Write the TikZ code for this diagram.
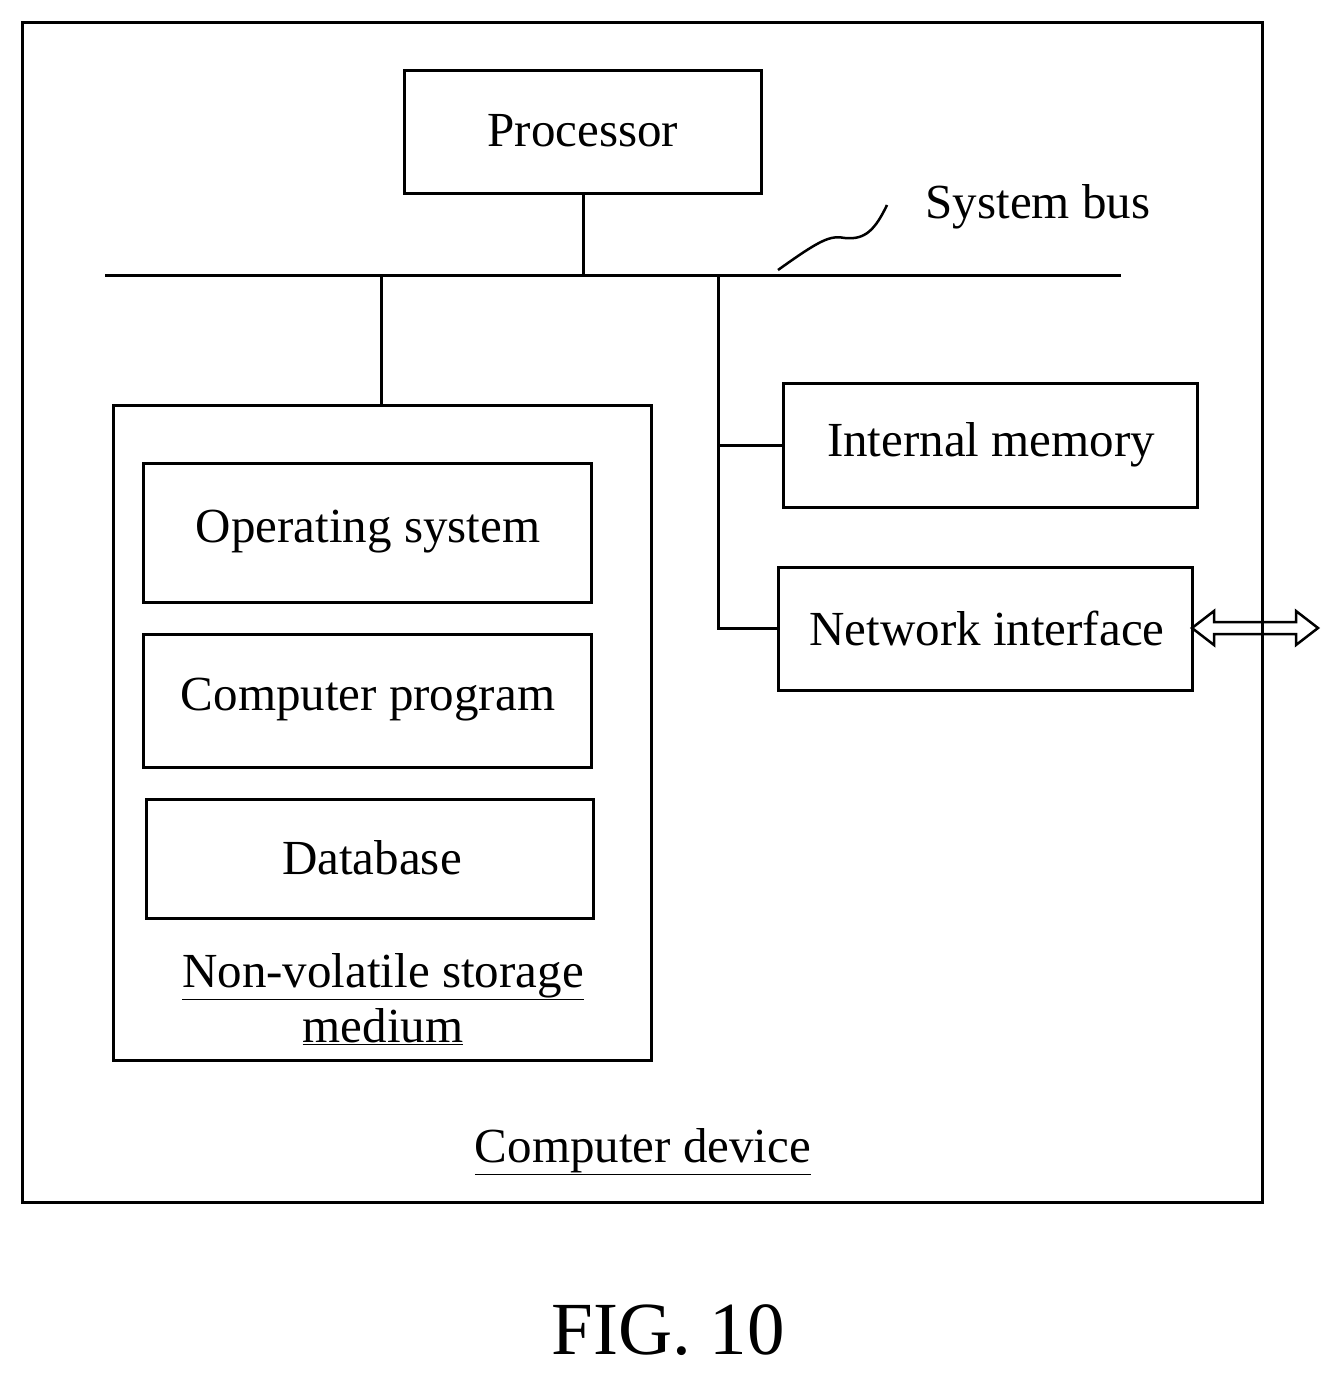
\documentclass[tikz,border=0pt]{standalone}
\usepackage{fontspec}
\setmainfont{Liberation Serif}
\begin{document}
\begin{tikzpicture}[x=1pt,y=-1pt,line width=3pt,
  box/.style={draw,rectangle,inner sep=0pt},
  lbl/.style={font=\fontsize{49}{55}\selectfont,inner sep=0pt}]
\useasboundingbox (0,0) rectangle (1340,1376);
\draw (22,22) rectangle (1262,1202);
\draw (404,70) rectangle (761,193);
\node[lbl] (proc) at (583,131) {Processor};
\draw (105,275) -- (1121,275);
\coordinate (pb) at (583,193); \coordinate (pbus) at (583,275);
\draw (pb) -- (pbus);
\draw[line width=2.5pt] (778,270) .. controls (820,240) and (830,235) .. (845,238) .. controls (865,240) and (875,230) .. (887,205);
\node[lbl] (sb) at (1038,207) {System bus};
\draw (381,275) -- (381,405);
\draw (113,405) rectangle (651,1060);
\draw (143,463) rectangle (591,602);
\node[lbl] (os) at (368,532) {Operating system};
\draw (143,634) rectangle (591,767);
\node[lbl] (cp) at (368,700) {Computer program};
\draw (146,799) rectangle (593,918);
\node[lbl] (db) at (372,858) {Database};
\node[lbl] (nv) at (383,977) {\underline{Non-volatile storage}};
\node[lbl] (md) at (383,1027) {\underline{medium}};
\draw (718,275) -- (718,628) -- (778,628);
\draw (718,445) -- (783,445);
\draw (783,383) rectangle (1197,507);
\node[lbl] (im) at (991,445) {Internal memory};
\draw (778,567) rectangle (1192,690);
\node[lbl] (ni) at (987,628) {Network interface};
\draw[line width=2.5pt] (1192,628)--(1214,611)--(1214,622)--(1296,622)--(1296,611)--(1318,628)--(1296,645)--(1296,634)--(1214,634)--(1214,645)--cycle;
\node[lbl] (cd) at (643,1152) {\underline{Computer device}};
\node[lbl,font=\fontsize{75}{80}\selectfont] (fig) at (668,1330) {FIG. 10};
\end{tikzpicture}
\end{document}
